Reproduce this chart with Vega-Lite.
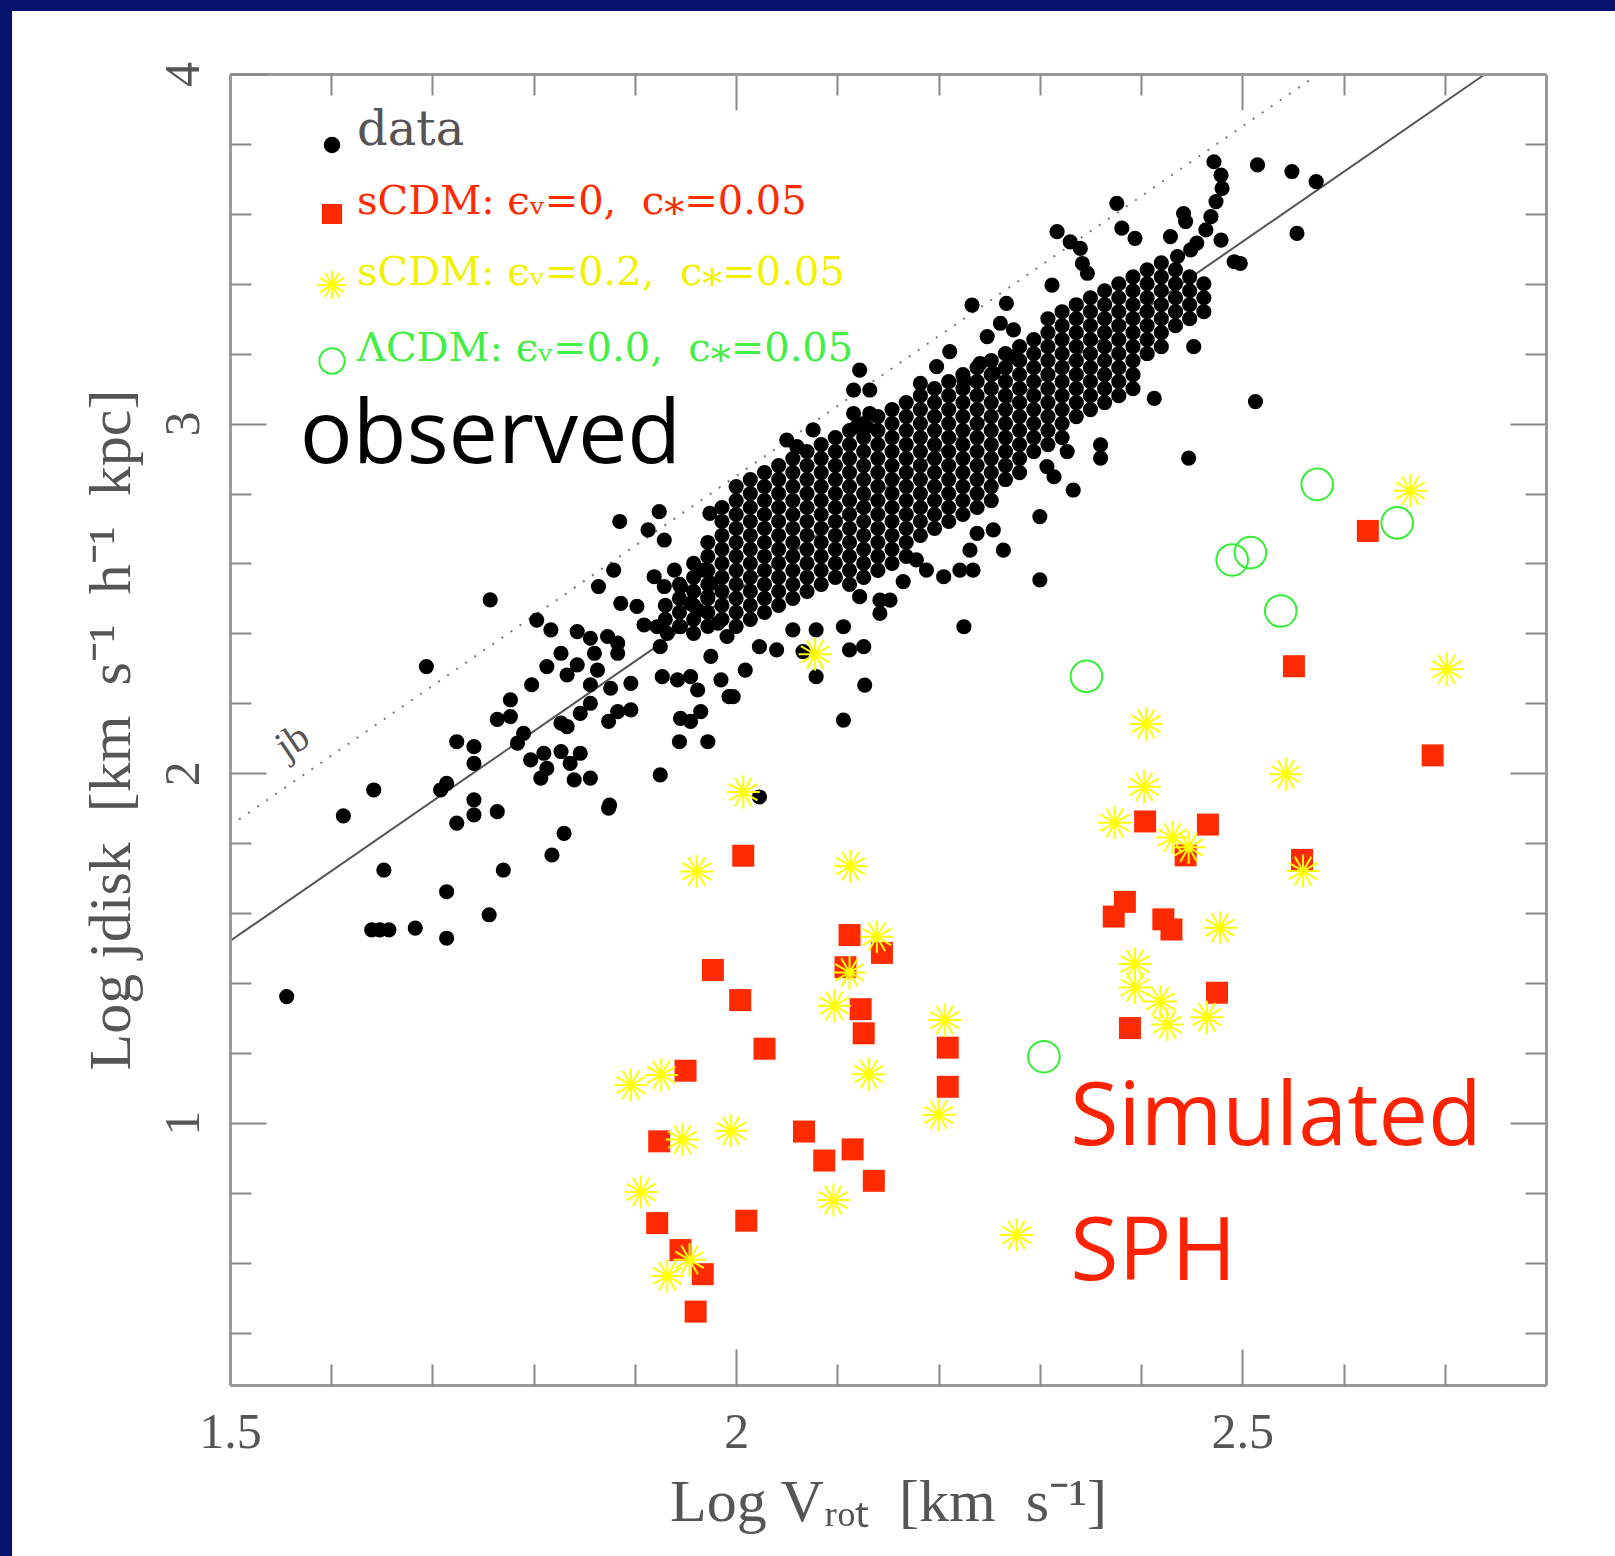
{
  "$schema": "https://vega.github.io/schema/vega-lite/v6.json",
  "width": 1316,
  "height": 1311,
  "autosize": {"type": "none"},
  "padding": {"left": 230, "top": 74, "right": 69, "bottom": 171},
  "background": "#06136f",
  "config": {"view": {"stroke": null}},
  "datasets": {
    "obs": [
      {"x":1.757,"y":2.496},{"x":1.694,"y":2.305},{"x":1.879,"y":2.581},{"x":1.864,"y":2.534},{"x":1.886,"y":2.486},{"x":1.902,"y":2.477},{"x":1.919,"y":2.562},{"x":1.939,"y":2.581},{"x":1.929,"y":2.534},{"x":1.945,"y":2.534},{"x":1.968,"y":2.581},{"x":1.975,"y":2.543},{"x":1.803,"y":2.438},{"x":1.817,"y":2.410},{"x":1.843,"y":2.405},{"x":1.856,"y":2.386},{"x":1.873,"y":2.391},{"x":1.883,"y":2.372},{"x":1.827,"y":2.343},{"x":1.860,"y":2.343},{"x":1.883,"y":2.343},{"x":1.813,"y":2.305},{"x":1.843,"y":2.310},{"x":1.833,"y":2.281},{"x":1.863,"y":2.295},{"x":1.798,"y":2.253},{"x":1.856,"y":2.253},{"x":1.876,"y":2.243},{"x":1.896,"y":2.257},{"x":1.777,"y":2.210},{"x":1.764,"y":2.154},{"x":1.777,"y":2.162},{"x":1.856,"y":2.200},{"x":1.846,"y":2.171},{"x":1.827,"y":2.143},{"x":1.833,"y":2.133},{"x":1.874,"y":2.148},{"x":1.883,"y":2.176},{"x":1.896,"y":2.181},{"x":1.790,"y":2.114},{"x":1.784,"y":2.086},{"x":1.724,"y":2.090},{"x":1.741,"y":2.076},{"x":1.741,"y":2.028},{"x":1.797,"y":2.038},{"x":1.810,"y":2.057},{"x":1.827,"y":2.062},{"x":1.846,"y":2.057},{"x":1.836,"y":2.028},{"x":1.813,"y":2.014},{"x":1.807,"y":1.986},{"x":1.840,"y":1.981},{"x":1.856,"y":1.986},{"x":1.714,"y":1.971},{"x":1.708,"y":1.952},{"x":1.642,"y":1.952},{"x":1.612,"y":1.878},{"x":1.741,"y":1.924},{"x":1.741,"y":1.881},{"x":1.724,"y":1.857},{"x":1.764,"y":1.890},{"x":1.874,"y":1.900},{"x":1.830,"y":1.828},{"x":1.818,"y":1.766},{"x":1.652,"y":1.723},{"x":1.770,"y":1.723},{"x":1.714,"y":1.661},{"x":1.756,"y":1.595},{"x":1.640,"y":1.552},{"x":1.648,"y":1.552},{"x":1.657,"y":1.552},{"x":1.683,"y":1.557},{"x":1.714,"y":1.528},{"x":1.556,"y":1.361},{"x":1.925,"y":2.362},{"x":1.975,"y":2.334},{"x":1.927,"y":2.276},{"x":1.942,"y":2.267},{"x":1.955,"y":2.276},{"x":1.962,"y":2.238},{"x":1.985,"y":2.267},{"x":1.993,"y":2.219},{"x":1.945,"y":2.157},{"x":1.955,"y":2.148},{"x":1.965,"y":2.176},{"x":1.944,"y":2.090},{"x":1.972,"y":2.090},{"x":1.925,"y":1.995},{"x":1.922,"y":2.419},{"x":1.909,"y":2.424},{"x":1.932,"y":2.400},{"x":1.945,"y":2.419},{"x":1.962,"y":2.467},{"x":1.972,"y":2.505},{"x":1.982,"y":2.429},{"x":1.991,"y":2.391},{"x":1.955,"y":2.486},
      {"x":2.122,"y":3.153},{"x":2.116,"y":3.096},{"x":2.132,"y":3.096},{"x":2.076,"y":2.982},{"x":2.050,"y":2.953},{"x":2.060,"y":2.934},{"x":2.116,"y":3.029},{"x":2.132,"y":3.029},{"x":2.119,"y":2.991},{"x":2.129,"y":2.991},{"x":2.198,"y":3.163},{"x":2.182,"y":3.115},{"x":2.211,"y":3.206},{"x":2.241,"y":3.172},{"x":2.248,"y":3.249},{"x":2.271,"y":3.191},{"x":2.254,"y":3.144},{"x":2.225,"y":3.125},{"x":1.924,"y":2.748},{"x":1.885,"y":2.720},{"x":1.913,"y":2.696},{"x":1.929,"y":2.667},{"x":1.974,"y":2.743},{"x":1.997,"y":2.219},{"x":2.009,"y":2.295},{"x":2.023,"y":2.362},{"x":2.040,"y":2.353},{"x":2.066,"y":2.348},{"x":2.079,"y":2.276},{"x":2.056,"y":2.410},{"x":2.079,"y":2.410},{"x":2.106,"y":2.419},{"x":2.112,"y":2.353},{"x":2.126,"y":2.362},{"x":2.127,"y":2.252},{"x":2.106,"y":2.152},{"x":2.122,"y":2.505},{"x":2.142,"y":2.495},{"x":2.152,"y":2.495},{"x":2.142,"y":2.457},{"x":2.178,"y":2.610},{"x":2.188,"y":2.581},{"x":2.205,"y":2.562},{"x":2.221,"y":2.581},{"x":2.234,"y":2.581},{"x":2.225,"y":2.419},{"x":2.300,"y":2.553},{"x":2.300,"y":2.734},{"x":2.231,"y":2.638},{"x":2.238,"y":2.686},{"x":2.254,"y":2.696},{"x":2.264,"y":2.638},
      {"x":2.472,"y":3.749},{"x":2.479,"y":3.711},{"x":2.480,"y":3.673},{"x":2.474,"y":3.635},{"x":2.469,"y":3.592},{"x":2.464,"y":3.554},{"x":2.515,"y":3.740},{"x":2.549,"y":3.721},{"x":2.573,"y":3.692},{"x":2.554,"y":3.544},{"x":2.479,"y":3.525},{"x":2.492,"y":3.463},{"x":2.498,"y":3.458},{"x":2.376,"y":3.630},{"x":2.381,"y":3.559},{"x":2.394,"y":3.530},{"x":2.429,"y":3.535},{"x":2.442,"y":3.601},{"x":2.444,"y":3.578},{"x":2.317,"y":3.549},{"x":2.330,"y":3.520},{"x":2.340,"y":3.501},{"x":2.342,"y":3.458},{"x":2.347,"y":3.430},{"x":2.312,"y":3.396},{"x":2.233,"y":3.339},{"x":2.267,"y":3.344},{"x":2.261,"y":3.287},{"x":2.274,"y":3.268},{"x":2.452,"y":3.220},{"x":2.413,"y":3.072},{"x":2.513,"y":3.063},{"x":2.447,"y":2.901},{"x":2.360,"y":2.939},{"x":2.360,"y":2.901},{"x":2.333,"y":2.810},{"x":2.165,"y":2.548},{"x":2.327,"y":2.920},{"x":2.307,"y":2.877},{"x":2.314,"y":2.848},{"x":2.449,"y":3.497},{"x":2.455,"y":3.516},{"x":2.436,"y":3.478},{"x":1.875,"y":1.909},{"x":2.023,"y":1.932},
      {"x":1.930,"y":2.44},{"x":1.930,"y":2.48},
      {"x":1.944,"y":2.42},{"x":1.944,"y":2.46},{"x":1.944,"y":2.50},{"x":1.944,"y":2.54},
      {"x":1.958,"y":2.40},{"x":1.958,"y":2.44},{"x":1.958,"y":2.48},{"x":1.958,"y":2.52},{"x":1.958,"y":2.56},{"x":1.958,"y":2.60},
      {"x":1.972,"y":2.42},{"x":1.972,"y":2.46},{"x":1.972,"y":2.50},{"x":1.972,"y":2.54},{"x":1.972,"y":2.58},{"x":1.972,"y":2.62},{"x":1.972,"y":2.66},
      {"x":1.986,"y":2.44},{"x":1.986,"y":2.48},{"x":1.986,"y":2.52},{"x":1.986,"y":2.56},{"x":1.986,"y":2.60},{"x":1.986,"y":2.64},{"x":1.986,"y":2.68},{"x":1.986,"y":2.72},{"x":1.986,"y":2.76},
      {"x":2.000,"y":2.42},{"x":2.000,"y":2.46},{"x":2.000,"y":2.50},{"x":2.000,"y":2.54},{"x":2.000,"y":2.58},{"x":2.000,"y":2.62},{"x":2.000,"y":2.66},{"x":2.000,"y":2.70},{"x":2.000,"y":2.74},{"x":2.000,"y":2.78},{"x":2.000,"y":2.82},
      {"x":2.014,"y":2.44},{"x":2.014,"y":2.48},{"x":2.014,"y":2.52},{"x":2.014,"y":2.56},{"x":2.014,"y":2.60},{"x":2.014,"y":2.64},{"x":2.014,"y":2.68},{"x":2.014,"y":2.72},{"x":2.014,"y":2.76},{"x":2.014,"y":2.80},{"x":2.014,"y":2.84},
      {"x":2.028,"y":2.46},{"x":2.028,"y":2.50},{"x":2.028,"y":2.54},{"x":2.028,"y":2.58},{"x":2.028,"y":2.62},{"x":2.028,"y":2.66},{"x":2.028,"y":2.70},{"x":2.028,"y":2.74},{"x":2.028,"y":2.78},{"x":2.028,"y":2.82},{"x":2.028,"y":2.86},
      {"x":2.042,"y":2.48},{"x":2.042,"y":2.52},{"x":2.042,"y":2.56},{"x":2.042,"y":2.60},{"x":2.042,"y":2.64},{"x":2.042,"y":2.68},{"x":2.042,"y":2.72},{"x":2.042,"y":2.76},{"x":2.042,"y":2.80},{"x":2.042,"y":2.84},{"x":2.042,"y":2.88},
      {"x":2.056,"y":2.50},{"x":2.056,"y":2.54},{"x":2.056,"y":2.58},{"x":2.056,"y":2.62},{"x":2.056,"y":2.66},{"x":2.056,"y":2.70},{"x":2.056,"y":2.74},{"x":2.056,"y":2.78},{"x":2.056,"y":2.82},{"x":2.056,"y":2.86},{"x":2.056,"y":2.90},
      {"x":2.070,"y":2.52},{"x":2.070,"y":2.56},{"x":2.070,"y":2.60},{"x":2.070,"y":2.64},{"x":2.070,"y":2.68},{"x":2.070,"y":2.72},{"x":2.070,"y":2.76},{"x":2.070,"y":2.80},{"x":2.070,"y":2.84},{"x":2.070,"y":2.88},{"x":2.070,"y":2.92},
      {"x":2.084,"y":2.54},{"x":2.084,"y":2.58},{"x":2.084,"y":2.62},{"x":2.084,"y":2.66},{"x":2.084,"y":2.70},{"x":2.084,"y":2.74},{"x":2.084,"y":2.78},{"x":2.084,"y":2.82},{"x":2.084,"y":2.86},{"x":2.084,"y":2.90},{"x":2.084,"y":2.94},
      {"x":2.098,"y":2.56},{"x":2.098,"y":2.60},{"x":2.098,"y":2.64},{"x":2.098,"y":2.68},{"x":2.098,"y":2.72},{"x":2.098,"y":2.76},{"x":2.098,"y":2.80},{"x":2.098,"y":2.84},{"x":2.098,"y":2.88},{"x":2.098,"y":2.92},{"x":2.098,"y":2.96},
      {"x":2.112,"y":2.54},{"x":2.112,"y":2.58},{"x":2.112,"y":2.62},{"x":2.112,"y":2.66},{"x":2.112,"y":2.70},{"x":2.112,"y":2.74},{"x":2.112,"y":2.78},{"x":2.112,"y":2.82},{"x":2.112,"y":2.86},{"x":2.112,"y":2.90},{"x":2.112,"y":2.94},{"x":2.112,"y":2.98},
      {"x":2.126,"y":2.56},{"x":2.126,"y":2.60},{"x":2.126,"y":2.64},{"x":2.126,"y":2.68},{"x":2.126,"y":2.72},{"x":2.126,"y":2.76},{"x":2.126,"y":2.80},{"x":2.126,"y":2.84},{"x":2.126,"y":2.88},{"x":2.126,"y":2.92},{"x":2.126,"y":2.96},{"x":2.126,"y":3.00},
      {"x":2.140,"y":2.58},{"x":2.140,"y":2.62},{"x":2.140,"y":2.66},{"x":2.140,"y":2.70},{"x":2.140,"y":2.74},{"x":2.140,"y":2.78},{"x":2.140,"y":2.82},{"x":2.140,"y":2.86},{"x":2.140,"y":2.90},{"x":2.140,"y":2.94},{"x":2.140,"y":2.98},{"x":2.140,"y":3.02},
      {"x":2.154,"y":2.60},{"x":2.154,"y":2.64},{"x":2.154,"y":2.68},{"x":2.154,"y":2.72},{"x":2.154,"y":2.76},{"x":2.154,"y":2.80},{"x":2.154,"y":2.84},{"x":2.154,"y":2.88},{"x":2.154,"y":2.92},{"x":2.154,"y":2.96},{"x":2.154,"y":3.00},{"x":2.154,"y":3.04},
      {"x":2.168,"y":2.62},{"x":2.168,"y":2.66},{"x":2.168,"y":2.70},{"x":2.168,"y":2.74},{"x":2.168,"y":2.78},{"x":2.168,"y":2.82},{"x":2.168,"y":2.86},{"x":2.168,"y":2.90},{"x":2.168,"y":2.94},{"x":2.168,"y":2.98},{"x":2.168,"y":3.02},{"x":2.168,"y":3.06},
      {"x":2.182,"y":2.68},{"x":2.182,"y":2.72},{"x":2.182,"y":2.76},{"x":2.182,"y":2.80},{"x":2.182,"y":2.84},{"x":2.182,"y":2.88},{"x":2.182,"y":2.92},{"x":2.182,"y":2.96},{"x":2.182,"y":3.00},{"x":2.182,"y":3.04},{"x":2.182,"y":3.08},
      {"x":2.196,"y":2.70},{"x":2.196,"y":2.74},{"x":2.196,"y":2.78},{"x":2.196,"y":2.82},{"x":2.196,"y":2.86},{"x":2.196,"y":2.90},{"x":2.196,"y":2.94},{"x":2.196,"y":2.98},{"x":2.196,"y":3.02},{"x":2.196,"y":3.06},{"x":2.196,"y":3.10},
      {"x":2.210,"y":2.72},{"x":2.210,"y":2.76},{"x":2.210,"y":2.80},{"x":2.210,"y":2.84},{"x":2.210,"y":2.88},{"x":2.210,"y":2.92},{"x":2.210,"y":2.96},{"x":2.210,"y":3.00},{"x":2.210,"y":3.04},{"x":2.210,"y":3.08},{"x":2.210,"y":3.12},
      {"x":2.224,"y":2.74},{"x":2.224,"y":2.78},{"x":2.224,"y":2.82},{"x":2.224,"y":2.86},{"x":2.224,"y":2.90},{"x":2.224,"y":2.94},{"x":2.224,"y":2.98},{"x":2.224,"y":3.02},{"x":2.224,"y":3.06},{"x":2.224,"y":3.10},{"x":2.224,"y":3.14},
      {"x":2.238,"y":2.76},{"x":2.238,"y":2.80},{"x":2.238,"y":2.84},{"x":2.238,"y":2.88},{"x":2.238,"y":2.92},{"x":2.238,"y":2.96},{"x":2.238,"y":3.00},{"x":2.238,"y":3.04},{"x":2.238,"y":3.08},{"x":2.238,"y":3.12},{"x":2.238,"y":3.16},
      {"x":2.252,"y":2.78},{"x":2.252,"y":2.82},{"x":2.252,"y":2.86},{"x":2.252,"y":2.90},{"x":2.252,"y":2.94},{"x":2.252,"y":2.98},{"x":2.252,"y":3.02},{"x":2.252,"y":3.06},{"x":2.252,"y":3.10},{"x":2.252,"y":3.14},{"x":2.252,"y":3.18},
      {"x":2.266,"y":2.84},{"x":2.266,"y":2.88},{"x":2.266,"y":2.92},{"x":2.266,"y":2.96},{"x":2.266,"y":3.00},{"x":2.266,"y":3.04},{"x":2.266,"y":3.08},{"x":2.266,"y":3.12},{"x":2.266,"y":3.16},{"x":2.266,"y":3.20},
      {"x":2.280,"y":2.86},{"x":2.280,"y":2.90},{"x":2.280,"y":2.94},{"x":2.280,"y":2.98},{"x":2.280,"y":3.02},{"x":2.280,"y":3.06},{"x":2.280,"y":3.10},{"x":2.280,"y":3.14},{"x":2.280,"y":3.18},{"x":2.280,"y":3.22},
      {"x":2.294,"y":2.92},{"x":2.294,"y":2.96},{"x":2.294,"y":3.00},{"x":2.294,"y":3.04},{"x":2.294,"y":3.08},{"x":2.294,"y":3.12},{"x":2.294,"y":3.16},{"x":2.294,"y":3.20},{"x":2.294,"y":3.24},
      {"x":2.308,"y":2.94},{"x":2.308,"y":2.98},{"x":2.308,"y":3.02},{"x":2.308,"y":3.06},{"x":2.308,"y":3.10},{"x":2.308,"y":3.14},{"x":2.308,"y":3.18},{"x":2.308,"y":3.22},{"x":2.308,"y":3.26},{"x":2.308,"y":3.30},
      {"x":2.322,"y":2.96},{"x":2.322,"y":3.00},{"x":2.322,"y":3.04},{"x":2.322,"y":3.08},{"x":2.322,"y":3.12},{"x":2.322,"y":3.16},{"x":2.322,"y":3.20},{"x":2.322,"y":3.24},{"x":2.322,"y":3.28},{"x":2.322,"y":3.32},
      {"x":2.336,"y":3.02},{"x":2.336,"y":3.06},{"x":2.336,"y":3.10},{"x":2.336,"y":3.14},{"x":2.336,"y":3.18},{"x":2.336,"y":3.22},{"x":2.336,"y":3.26},{"x":2.336,"y":3.30},{"x":2.336,"y":3.34},
      {"x":2.350,"y":3.04},{"x":2.350,"y":3.08},{"x":2.350,"y":3.12},{"x":2.350,"y":3.16},{"x":2.350,"y":3.20},{"x":2.350,"y":3.24},{"x":2.350,"y":3.28},{"x":2.350,"y":3.32},{"x":2.350,"y":3.36},
      {"x":2.364,"y":3.06},{"x":2.364,"y":3.10},{"x":2.364,"y":3.14},{"x":2.364,"y":3.18},{"x":2.364,"y":3.22},{"x":2.364,"y":3.26},{"x":2.364,"y":3.30},{"x":2.364,"y":3.34},{"x":2.364,"y":3.38},
      {"x":2.378,"y":3.08},{"x":2.378,"y":3.12},{"x":2.378,"y":3.16},{"x":2.378,"y":3.20},{"x":2.378,"y":3.24},{"x":2.378,"y":3.28},{"x":2.378,"y":3.32},{"x":2.378,"y":3.36},{"x":2.378,"y":3.40},
      {"x":2.392,"y":3.10},{"x":2.392,"y":3.14},{"x":2.392,"y":3.18},{"x":2.392,"y":3.22},{"x":2.392,"y":3.26},{"x":2.392,"y":3.30},{"x":2.392,"y":3.34},{"x":2.392,"y":3.38},{"x":2.392,"y":3.42},
      {"x":2.406,"y":3.20},{"x":2.406,"y":3.24},{"x":2.406,"y":3.28},{"x":2.406,"y":3.32},{"x":2.406,"y":3.36},{"x":2.406,"y":3.40},{"x":2.406,"y":3.44},
      {"x":2.420,"y":3.22},{"x":2.420,"y":3.26},{"x":2.420,"y":3.30},{"x":2.420,"y":3.34},{"x":2.420,"y":3.38},{"x":2.420,"y":3.42},{"x":2.420,"y":3.46},
      {"x":2.434,"y":3.28},{"x":2.434,"y":3.32},{"x":2.434,"y":3.36},{"x":2.434,"y":3.40},{"x":2.434,"y":3.44},
      {"x":2.448,"y":3.30},{"x":2.448,"y":3.34},{"x":2.448,"y":3.38},{"x":2.448,"y":3.42},
      {"x":2.462,"y":3.32},{"x":2.462,"y":3.36},{"x":2.462,"y":3.40}
    ],
    "scdm0": [
      {"x":2.007,"y":1.764},{"x":2.112,"y":1.537},{"x":2.144,"y":1.486},{"x":2.108,"y":1.445},{"x":1.977,"y":1.437},{"x":2.004,"y":1.351},{"x":2.123,"y":1.325},{"x":2.126,"y":1.256},{"x":2.028,"y":1.212},{"x":2.209,"y":1.215},{"x":2.209,"y":1.103},{"x":1.950,"y":1.149},{"x":1.924,"y":0.947},{"x":2.067,"y":0.975},{"x":2.115,"y":0.924},{"x":2.087,"y":0.892},{"x":2.136,"y":0.834},{"x":1.922,"y":0.713},{"x":2.010,"y":0.720},{"x":1.945,"y":0.636},{"x":1.967,"y":0.567},{"x":1.960,"y":0.460},{"x":2.624,"y":2.693},{"x":2.551,"y":2.306},{"x":2.688,"y":2.051},{"x":2.404,"y":1.862},{"x":2.466,"y":1.853},{"x":2.444,"y":1.765},{"x":2.559,"y":1.752},{"x":2.384,"y":1.632},{"x":2.373,"y":1.590},{"x":2.422,"y":1.582},{"x":2.430,"y":1.553},{"x":2.475,"y":1.372},{"x":2.389,"y":1.271}
    ],
    "scdm2": [
      {"x":2.007,"y":1.946},{"x":1.961,"y":1.719},{"x":2.113,"y":1.734},{"x":2.139,"y":1.532},{"x":2.112,"y":1.430},{"x":2.097,"y":1.335},{"x":2.206,"y":1.294},{"x":2.131,"y":1.139},{"x":1.896,"y":1.108},{"x":1.926,"y":1.137},{"x":1.947,"y":0.952},{"x":1.995,"y":0.977},{"x":2.200,"y":1.023},{"x":1.906,"y":0.802},{"x":2.096,"y":0.779},{"x":1.954,"y":0.608},{"x":1.932,"y":0.562},{"x":2.277,"y":0.679},{"x":2.666,"y":2.808},{"x":2.702,"y":2.297},{"x":2.405,"y":2.141},{"x":2.543,"y":1.997},{"x":2.403,"y":1.961},{"x":2.374,"y":1.858},{"x":2.431,"y":1.816},{"x":2.447,"y":1.788},{"x":2.560,"y":1.720},{"x":2.478,"y":1.558},{"x":2.394,"y":1.454},{"x":2.394,"y":1.387},{"x":2.419,"y":1.347},{"x":2.426,"y":1.281},{"x":2.465,"y":1.302},{"x":2.078,"y":2.340}
    ],
    "lcdm": [
      {"x":2.574,"y":2.826},{"x":2.653,"y":2.716},{"x":2.490,"y":2.610},{"x":2.508,"y":2.631},{"x":2.538,"y":2.464},{"x":2.346,"y":2.277},{"x":2.304,"y":1.189}
    ]
  },
  "layer": [
    {
      "data": {"values": [{}]},
      "mark": {"type": "rect", "fill": "#ffffff"},
      "encoding": {
        "x": {"datum": 1.2847, "type": "quantitative", "scale": {"domain": [1.5, 2.8], "nice": false, "zero": false}, "axis": null},
        "x2": {"datum": 3.6},
        "y": {"datum": 4.18, "type": "quantitative", "scale": {"domain": [0.25, 4], "nice": false, "zero": false}, "axis": null},
        "y2": {"datum": -1.5}
      }
    },
    {
      "data": {"values": [{"x": 1.5, "y": 1.52}, {"x": 2.74, "y": 4.0}]},
      "mark": {"type": "line", "color": "#555555", "strokeWidth": 2},
      "encoding": {
        "x": {"field": "x", "type": "quantitative", "scale": {"domain": [1.5, 2.8], "nice": false, "zero": false},
          "axis": {"orient": "bottom", "values": [1.5, 2, 2.5], "format": "~g", "ticks": false, "domain": true, "domainColor": "#999999", "domainWidth": 3, "grid": false, "labelFont": "Liberation Serif", "labelFontSize": 50, "labelColor": "#555555", "labelPadding": 22, "labelFlush": false, "labelOverlap": false, "title": "Log Vᵣₒₜ\u00a0 [km\u00a0 s⁻¹]", "titleFont": "Liberation Serif", "titleFontSize": 60, "titleFontWeight": "normal", "titleColor": "#555555", "titlePadding": 16, "zindex": 1}},
        "y": {"field": "y", "type": "quantitative", "scale": {"domain": [0.25, 4], "nice": false, "zero": false},
          "axis": {"orient": "left", "values": [1, 2, 3, 4], "format": "~g", "ticks": false, "domain": true, "domainColor": "#999999", "domainWidth": 3, "grid": false, "labelFont": "Liberation Serif", "labelFontSize": 50, "labelColor": "#555555", "labelAngle": 270, "labelAlign": "center", "labelBaseline": "alphabetic", "labelPadding": 32, "labelFlush": false, "labelOverlap": false, "title": "Log jdisk\u00a0 [km\u00a0 s⁻¹\u00a0 h⁻¹\u00a0 kpc]", "titleFont": "Liberation Serif", "titleFontSize": 60, "titleFontWeight": "normal", "titleColor": "#555555", "titlePadding": 16, "zindex": 1}}
      }
    },
    {
      "data": {"values": [{"x": 1.5, "y": 1.85}, {"x": 2.575, "y": 4.0}]},
      "mark": {"type": "line", "color": "#777777", "strokeWidth": 2, "strokeDash": [2, 9]},
      "encoding": {
        "x": {"field": "x", "type": "quantitative", "scale": {"domain": [1.5, 2.8], "nice": false, "zero": false},
          "axis": {"orient": "bottom", "values": [1.5, 2, 2.5], "ticks": true, "tickSize": -36, "tickColor": "#888888", "tickWidth": 2, "labels": false, "domain": false, "grid": false, "title": null, "zindex": 1}},
        "y": {"field": "y", "type": "quantitative", "scale": {"domain": [0.25, 4], "nice": false, "zero": false},
          "axis": {"orient": "left", "values": [1, 2, 3, 4], "ticks": true, "tickSize": -36, "tickColor": "#888888", "tickWidth": 2, "labels": false, "domain": false, "grid": false, "title": null, "zindex": 1}}
      }
    },
    {
      "data": {"name": "obs"},
      "mark": {"type": "point", "size": 230, "strokeWidth": 0, "opacity": 1},
      "encoding": {
        "x": {"field": "x", "type": "quantitative", "scale": {"domain": [1.5, 2.8], "nice": false, "zero": false},
          "axis": {"orient": "bottom", "values": [1.6, 1.7, 1.8, 1.9, 2.1, 2.2, 2.3, 2.4, 2.6, 2.7], "ticks": true, "tickSize": -21, "tickColor": "#888888", "tickWidth": 2, "labels": false, "domain": false, "grid": false, "title": null, "zindex": 1}},
        "y": {"field": "y", "type": "quantitative", "scale": {"domain": [0.25, 4], "nice": false, "zero": false},
          "axis": {"orient": "left", "values": [0.4, 0.6, 0.8, 1.2, 1.4, 1.6, 1.8, 2.2, 2.4, 2.6, 2.8, 3.2, 3.4, 3.6, 3.8], "ticks": true, "tickSize": -21, "tickColor": "#888888", "tickWidth": 2, "labels": false, "domain": false, "grid": false, "title": null, "zindex": 1}},
        "shape": {"datum": "data", "scale": {"domain": ["data", "sCDM0", "sCDM2", "LCDM"], "range": ["circle", "square", "M-1,0L1,0M-0.866,-0.5L0.866,0.5M-0.5,-0.866L0.5,0.866M0,-1L0,1M0.5,-0.866L-0.5,0.866M0.866,-0.5L-0.866,0.5", "circle"]},
          "legend": {"orient": "none", "legendX": 82, "legendY": 51, "title": null, "padding": 0, "rowPadding": 25, "labelOffset": 5, "labelFont": "DejaVu Serif", "labelFontSize": {"expr": "datum.value == 'data' ? 48 : 40"}, "labelBaseline": "alphabetic", "labelLimit": 2000, "symbolStrokeWidth": 2, "zindex": 1,
            "symbolSize": {"expr": "datum.value == 'data' ? 210 : datum.value == 'sCDM0' ? 330 : datum.value == 'sCDM2' ? 800 : 640"},
            "labelColor": {"expr": "datum.value == 'data' ? '#555555' : datum.value == 'sCDM0' ? '#ff2a00' : datum.value == 'sCDM2' ? '#f2f200' : '#44ee44'"},
            "labelExpr": "datum.value == 'data' ? 'data' : datum.value == 'sCDM0' ? 'sCDM: ϵᵥ=0,\u00a0 c⁎=0.05' : datum.value == 'sCDM2' ? 'sCDM: ϵᵥ=0.2,\u00a0 c⁎=0.05' : 'ΛCDM: ϵᵥ=0.0,\u00a0 c⁎=0.05'"}},
        "fill": {"datum": "data", "scale": {"domain": ["data", "sCDM0", "sCDM2", "LCDM"], "range": ["#000000", "#ff2a00", "transparent", "transparent"]}},
        "stroke": {"datum": "data", "scale": {"domain": ["data", "sCDM0", "sCDM2", "LCDM"], "range": ["#000000", "#ff2a00", "#ffff00", "#33ee33"]}}
      }
    },
    {
      "data": {"name": "scdm0"},
      "mark": {"type": "point", "size": 484, "strokeWidth": 0, "opacity": 1},
      "encoding": {
        "x": {"field": "x", "type": "quantitative", "scale": {"domain": [1.5, 2.8], "nice": false, "zero": false},
          "axis": {"orient": "top", "values": [2, 2.5], "ticks": true, "tickSize": -36, "tickColor": "#888888", "tickWidth": 2, "labels": false, "domain": true, "domainColor": "#999999", "domainWidth": 3, "grid": false, "title": null, "zindex": 1}},
        "y": {"field": "y", "type": "quantitative", "scale": {"domain": [0.25, 4], "nice": false, "zero": false},
          "axis": {"orient": "right", "values": [1, 2, 3], "ticks": true, "tickSize": -36, "tickColor": "#888888", "tickWidth": 2, "labels": false, "domain": true, "domainColor": "#999999", "domainWidth": 3, "grid": false, "title": null, "zindex": 1}},
        "shape": {"datum": "sCDM0", "scale": {"domain": ["data", "sCDM0", "sCDM2", "LCDM"], "range": ["circle", "square", "M-1,0L1,0M-0.866,-0.5L0.866,0.5M-0.5,-0.866L0.5,0.866M0,-1L0,1M0.5,-0.866L-0.5,0.866M0.866,-0.5L-0.866,0.5", "circle"]}},
        "fill": {"datum": "sCDM0", "scale": {"domain": ["data", "sCDM0", "sCDM2", "LCDM"], "range": ["#000000", "#ff2a00", "transparent", "transparent"]}},
        "stroke": {"datum": "sCDM0", "scale": {"domain": ["data", "sCDM0", "sCDM2", "LCDM"], "range": ["#000000", "#ff2a00", "#ffff00", "#33ee33"]}}
      }
    },
    {
      "data": {"name": "scdm2"},
      "mark": {"type": "point", "size": 1089, "strokeWidth": 2, "opacity": 1},
      "encoding": {
        "x": {"field": "x", "type": "quantitative", "scale": {"domain": [1.5, 2.8], "nice": false, "zero": false},
          "axis": {"orient": "top", "values": [1.6, 1.7, 1.8, 1.9, 2.1, 2.2, 2.3, 2.4, 2.6, 2.7], "ticks": true, "tickSize": -21, "tickColor": "#888888", "tickWidth": 2, "labels": false, "domain": false, "grid": false, "title": null, "zindex": 1}},
        "y": {"field": "y", "type": "quantitative", "scale": {"domain": [0.25, 4], "nice": false, "zero": false},
          "axis": {"orient": "right", "values": [0.4, 0.6, 0.8, 1.2, 1.4, 1.6, 1.8, 2.2, 2.4, 2.6, 2.8, 3.2, 3.4, 3.6, 3.8], "ticks": true, "tickSize": -21, "tickColor": "#888888", "tickWidth": 2, "labels": false, "domain": false, "grid": false, "title": null, "zindex": 1}},
        "shape": {"datum": "sCDM2", "scale": {"domain": ["data", "sCDM0", "sCDM2", "LCDM"], "range": ["circle", "square", "M-1,0L1,0M-0.866,-0.5L0.866,0.5M-0.5,-0.866L0.5,0.866M0,-1L0,1M0.5,-0.866L-0.5,0.866M0.866,-0.5L-0.866,0.5", "circle"]}},
        "fill": {"datum": "sCDM2", "scale": {"domain": ["data", "sCDM0", "sCDM2", "LCDM"], "range": ["#000000", "#ff2a00", "transparent", "transparent"]}},
        "stroke": {"datum": "sCDM2", "scale": {"domain": ["data", "sCDM0", "sCDM2", "LCDM"], "range": ["#000000", "#ff2a00", "#ffff00", "#33ee33"]}}
      }
    },
    {
      "data": {"name": "lcdm"},
      "mark": {"type": "point", "size": 1000, "strokeWidth": 2, "opacity": 1},
      "encoding": {
        "x": {"field": "x", "type": "quantitative", "scale": {"domain": [1.5, 2.8], "nice": false, "zero": false}, "axis": null},
        "y": {"field": "y", "type": "quantitative", "scale": {"domain": [0.25, 4], "nice": false, "zero": false}, "axis": null},
        "shape": {"datum": "LCDM", "scale": {"domain": ["data", "sCDM0", "sCDM2", "LCDM"], "range": ["circle", "square", "M-1,0L1,0M-0.866,-0.5L0.866,0.5M-0.5,-0.866L0.5,0.866M0,-1L0,1M0.5,-0.866L-0.5,0.866M0.866,-0.5L-0.866,0.5", "circle"]}},
        "fill": {"datum": "LCDM", "scale": {"domain": ["data", "sCDM0", "sCDM2", "LCDM"], "range": ["#000000", "#ff2a00", "transparent", "transparent"]}},
        "stroke": {"datum": "LCDM", "scale": {"domain": ["data", "sCDM0", "sCDM2", "LCDM"], "range": ["#000000", "#ff2a00", "#ffff00", "#33ee33"]}}
      }
    },
    {
      "data": {"values": [{"x": 1.569, "y": 2.886, "label": "observed"}]},
      "mark": {"type": "text", "font": "Open Sans", "fontSize": 88, "color": "#000000", "align": "left", "baseline": "alphabetic"},
      "encoding": {
        "x": {"field": "x", "type": "quantitative", "scale": {"domain": [1.5, 2.8], "nice": false, "zero": false}, "axis": null},
        "y": {"field": "y", "type": "quantitative", "scale": {"domain": [0.25, 4], "nice": false, "zero": false}, "axis": null},
        "text": {"field": "label"}
      }
    },
    {
      "data": {"values": [{"x": 2.330, "y": 0.937, "label": "Simulated"}, {"x": 2.330, "y": 0.550, "label": "SPH"}]},
      "mark": {"type": "text", "font": "Open Sans", "fontSize": 88, "color": "#ff2200", "align": "left", "baseline": "alphabetic"},
      "encoding": {
        "x": {"field": "x", "type": "quantitative", "scale": {"domain": [1.5, 2.8], "nice": false, "zero": false}, "axis": null},
        "y": {"field": "y", "type": "quantitative", "scale": {"domain": [0.25, 4], "nice": false, "zero": false}, "axis": null},
        "text": {"field": "label"}
      }
    },
    {
      "data": {"values": [{"x": 1.562, "y": 2.090, "label": "jb"}]},
      "mark": {"type": "text", "font": "Liberation Serif", "fontSize": 40, "color": "#555555", "align": "center", "baseline": "middle", "angle": -34},
      "encoding": {
        "x": {"field": "x", "type": "quantitative", "scale": {"domain": [1.5, 2.8], "nice": false, "zero": false}, "axis": null},
        "y": {"field": "y", "type": "quantitative", "scale": {"domain": [0.25, 4], "nice": false, "zero": false}, "axis": null},
        "text": {"field": "label"}
      }
    }
  ],
  "resolve": {"axis": {"x": "independent", "y": "independent"}}
}
